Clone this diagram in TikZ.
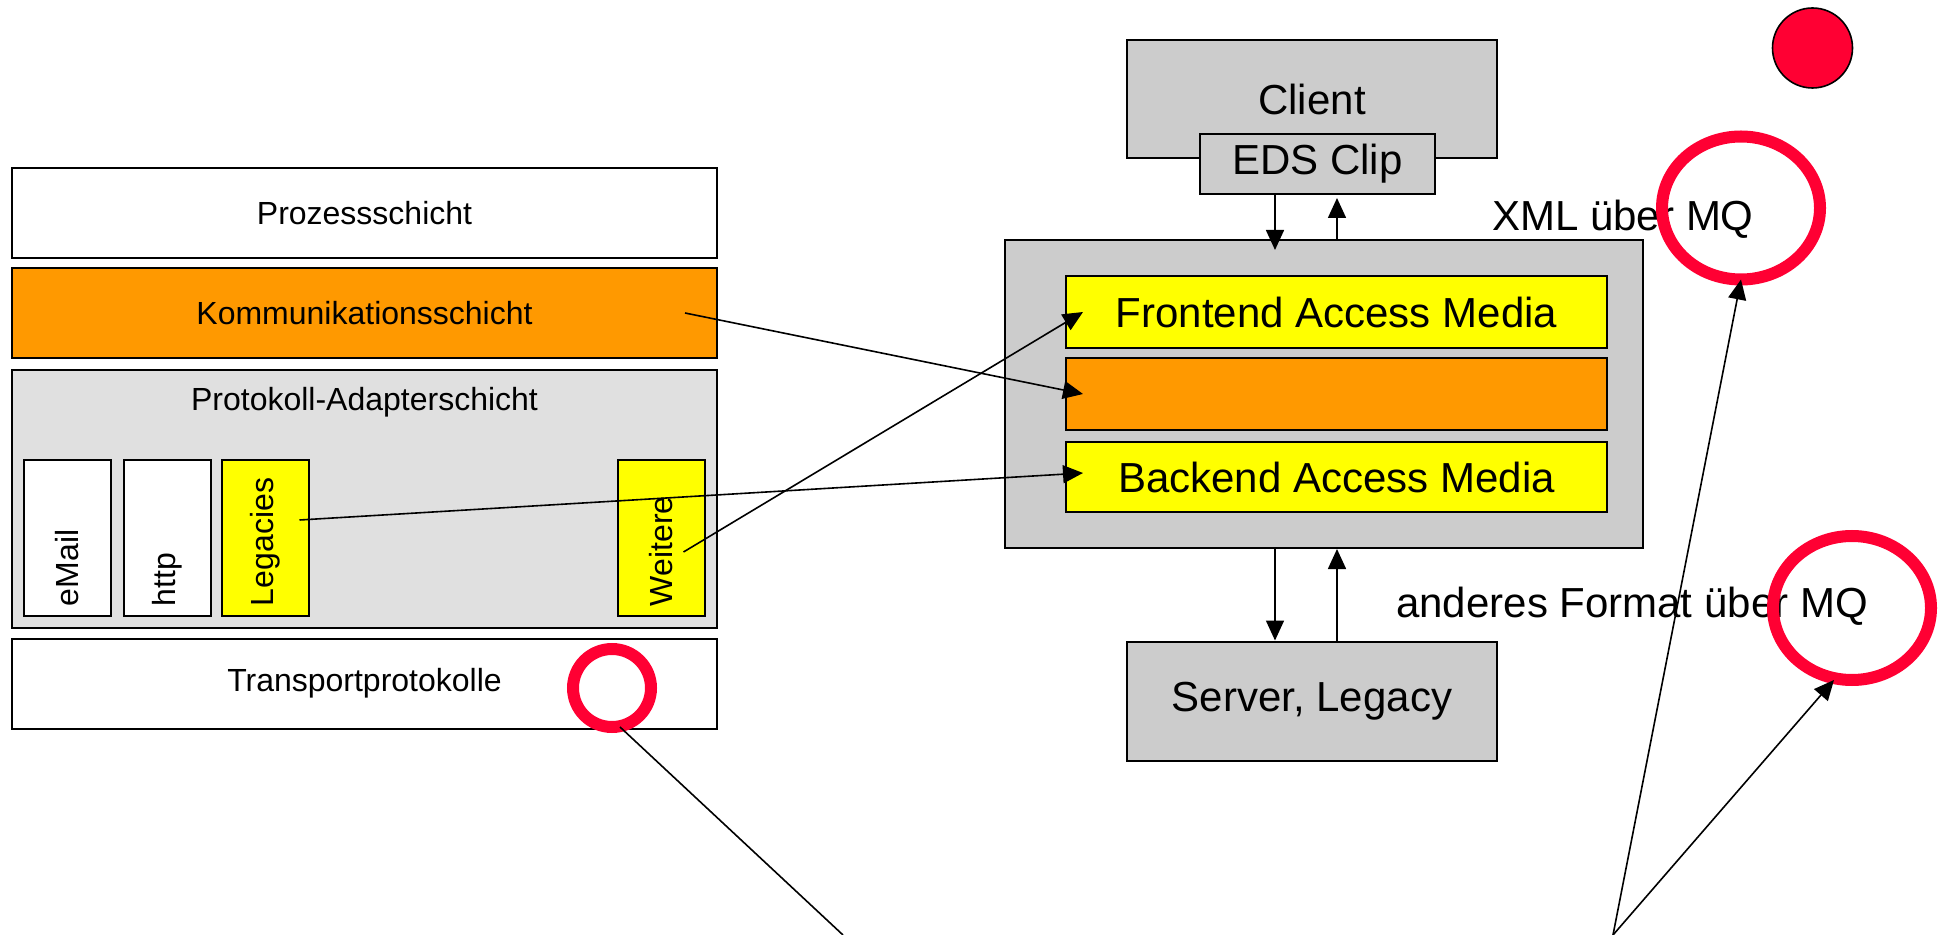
\documentclass[tikz,border=0pt]{standalone}
\usepackage{fontspec}
\setmainfont{Liberation Sans}
\usetikzlibrary{shapes.geometric,arrows.meta}
\definecolor{orng}{RGB}{255,153,0}
\definecolor{ylw}{RGB}{255,255,0}
\definecolor{gry}{RGB}{204,204,204}
\definecolor{lgry}{RGB}{224,224,224}
\definecolor{markred}{RGB}{255,0,51}
\begin{document}
\begin{tikzpicture}[x=0.5pt,y=-0.5pt]
\tikzset{layer/.style={draw,line width=1pt,minimum width=352.5pt,minimum height=45pt,inner sep=0pt,font=\fontsize{16}{19}\selectfont}}
\tikzset{adapt/.style={draw,line width=1pt,rotate=90,minimum width=78pt,minimum height=43.5pt,inner sep=0pt,text width=68pt,align=left,font=\fontsize{16}{19}\selectfont}}
\tikzset{box/.style={draw,line width=1pt,fill=gry,inner sep=0pt,font=\fontsize{21}{25}\selectfont}}
\tikzset{media/.style={draw,line width=1pt,minimum width=270.5pt,minimum height=36pt,inner sep=0pt,font=\fontsize{21}{25}\selectfont}}
\tikzset{ring/.style={draw=markred,line width=6pt,ellipse,inner sep=0pt,outer sep=0pt}}
\tikzset{arr/.style={line width=0.8pt,-{Triangle[length=10pt,width=9pt]}}}
\useasboundingbox (0,0) rectangle (1939,935);
% linke Seite: Schichten
\node[layer] (prozess) at (364.5,213) {Prozessschicht};
\node[layer,fill=orng] (komm) at (364.5,313) {Kommunikationsschicht};
\node[layer,fill=lgry,minimum height=129pt] (adapter) at (364.5,499) {};
\node[font=\fontsize{16}{19}\selectfont] (adaptertext) at (364.5,402.5) {Protokoll-Adapterschicht};
\node[layer] (transport) at (364.5,683.5) {Transportprotokolle};
\node[adapt,fill=white] (email) at (67.5,538) {eMail};
\node[adapt,fill=white] (http) at (167,538) {http};
\node[adapt,fill=ylw] (legacies) at (265.5,538) {Legacies};
\node[adapt,fill=ylw] (weitere) at (661.5,538) {Weitere};
% rechte Seite
\node[box,minimum width=185pt,minimum height=59pt] (client) at (1312,99) {Client};
\node[box,minimum width=117.5pt,minimum height=30pt] (eds) at (1317.5,164) {EDS Clip};
\node[box,minimum width=319pt,minimum height=154pt] (emedia) at (1324,394) {};
\node[media,fill=ylw] (frontend) at (1336.5,312) {Frontend Access Media};
\node[media,fill=orng] (core) at (1336.5,394) {};
\node[media,fill=ylw,minimum height=35pt] (backend) at (1336.5,477) {Backend Access Media};
\node[box,minimum width=185pt,minimum height=59.5pt] (server) at (1312,701) {Server, Legacy};
\node[font=\fontsize{21}{25}\selectfont] (xmlmq) at (1623,219) {XML über MQ};
\node[font=\fontsize{21}{25}\selectfont] (othermq) at (1632,606) {anderes Format über MQ};
\node[ring,minimum width=39pt,minimum height=39pt] (tring) at (612,688) {};
\node[ring,minimum width=79pt,minimum height=71.5pt] (xring) at (1741,208) {};
\node[ring,minimum width=79pt,minimum height=72pt] (fring) at (1852,608) {};
\node[draw,line width=0.8pt,fill=markred,ellipse,minimum width=40pt,minimum height=40pt,inner sep=0pt] (dot) at (1812.5,48) {};
\coordinate (lowa) at (843,935);
\coordinate (lowb) at (1613,935);
% Verbindungen
\draw[arr] ([xshift=-21.25pt]eds.south) -- ([xshift=-24.5pt,yshift=-5.5pt]emedia.north);
\draw[arr] ([xshift=6.5pt]emedia.north) -- ([xshift=9.75pt,yshift=-1.5pt]eds.south);
\draw[arr] ([xshift=-24.5pt]emedia.south) -- ([xshift=-18.5pt]server.north);
\draw[arr] ([xshift=12.5pt]server.north) -- ([xshift=6.5pt]emedia.south);
\draw[arr] ([xshift=-16.5pt]komm.east) -- ([xshift=9pt]core.west);
\draw[arr] ([xshift=17pt,yshift=9pt]legacies.center) -- ([xshift=9pt,yshift=2pt]backend.west);
\draw[arr] ([xshift=11pt,yshift=-7pt]weitere.center) -- ([xshift=9pt]frontend.west);
\draw[line width=0.8pt] ([xshift=4pt]tring.south) -- (lowa);
\draw[arr] (lowb) -- (xring.south);
\draw[arr] (lowb) -- ([xshift=-9pt]fring.south);
\end{tikzpicture}
\end{document}
